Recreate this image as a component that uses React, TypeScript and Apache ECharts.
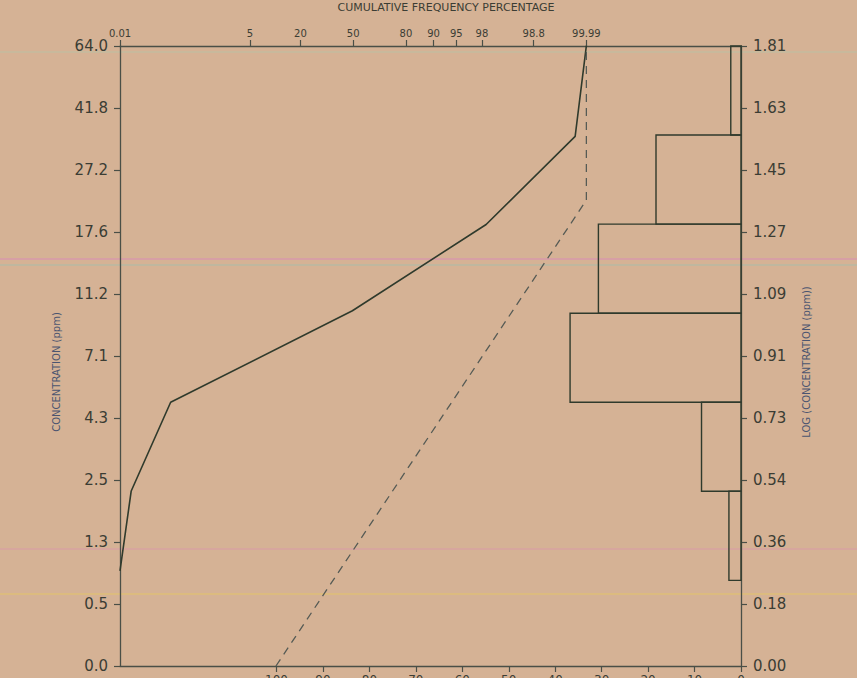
import React, { useEffect, useRef } from "react";
import * as echarts from "echarts";

// ---- data ----
const TOP_TICK_PCT = [0.01, 5, 20, 50, 80, 90, 95, 98, 99.8, 99.99];
const TOP_TICK_LABELS = ["0.01", "5", "20", "50", "80", "90", "95", "98", "98.8", "99.99"];
const BOTTOM_TICKS = [0, 10, 20, 30, 40, 50, 60, 70, 80, 90, 100];
const LEFT_LABELS = ["0.0", "0.5", "1.3", "2.5", "4.3", "7.1", "11.2", "17.6", "27.2", "41.8", "64.0"];
const RIGHT_LABELS = ["0.00", "0.18", "0.36", "0.54", "0.73", "0.91", "1.09", "1.27", "1.45", "1.63", "1.81"];

// cumulative frequency curve (solid)
const SOLID_CUM_PCT = [0.01, 0.02, 0.18, 49.5, 98.3, 99.98, 99.99];
const SOLID_LOG = [0.278, 0.511, 0.77, 1.037, 1.289, 1.546, 1.811];

// fitted line (dashed)
const DASH_CUM_PCT = [10.9, 99.99, 99.99];
const DASH_LOG = [0, 1.36, 1.811];

// histogram
const HIST_EDGES = [0.25, 0.51, 0.77, 1.03, 1.29, 1.55, 1.81];
const HIST_PCT = [2.6, 8.5, 36.8, 30.7, 18.3, 2.2];

// ---- probability scale transform (inverse normal CDF) ----
function probit(pct: number): number {
  const p = pct / 100;
  const a = [-3.969683028665376e1, 2.209460984245205e2, -2.759285104469687e2, 1.38357751867269e2, -3.066479806614716e1, 2.506628277459239];
  const b = [-5.447609879822406e1, 1.615858368580409e2, -1.556989798598866e2, 6.680131188771972e1, -1.328068155288572e1];
  const c = [-7.784894002430293e-3, -3.223964580411365e-1, -2.400758277161838, -2.549732539343734, 4.374664141464968, 2.938163982698783];
  const d = [7.784695709041462e-3, 3.224671290700398e-1, 2.445134137142996, 3.754408661907416];
  const pl = 0.02425;
  if (p < pl) {
    const q = Math.sqrt(-2 * Math.log(p));
    return (((((c[0] * q + c[1]) * q + c[2]) * q + c[3]) * q + c[4]) * q + c[5]) / ((((d[0] * q + d[1]) * q + d[2]) * q + d[3]) * q + 1);
  }
  if (p <= 1 - pl) {
    const q = p - 0.5;
    const r = q * q;
    return ((((((a[0] * r + a[1]) * r + a[2]) * r + a[3]) * r + a[4]) * r + a[5]) * q) / (((((b[0] * r + b[1]) * r + b[2]) * r + b[3]) * r + b[4]) * r + 1);
  }
  const q = Math.sqrt(-2 * Math.log(1 - p));
  return -(((((c[0] * q + c[1]) * q + c[2]) * q + c[3]) * q + c[4]) * q + c[5]) / ((((d[0] * q + d[1]) * q + d[2]) * q + d[3]) * q + 1);
}

const TOP_TICK_Z = TOP_TICK_PCT.map(probit);
const LOG_MAX = 1.81;
const LOG_STEP = 0.181;

const INK = "#2f3a2c";
const AXIS = "#4a4f47";
const TXT = "#3b3d34";
const NAME = "#4b5570";
const FONT = "DejaVu Sans";

export default function App() {
  const ref = useRef<HTMLDivElement>(null);
  useEffect(() => {
    if (!ref.current) return;
    const chart = echarts.init(ref.current, null, { renderer: "svg" });
    const idxOf = (v: number) => Math.round(v / LOG_STEP);
    const axisLine = { show: true, onZero: false, lineStyle: { color: AXIS, width: 1.3 } };
    const option: any = {
      animation: false,
      backgroundColor: "#d5b295",
      grid: { left: 120, right: 116, top: 46, bottom: 12, containLabel: false, outerBoundsMode: "none" },
      graphic: [
        { type: "line", z: -5, shape: { x1: 0, y1: 52, x2: 857, y2: 52 }, style: { stroke: "#b9c2a4", lineWidth: 2, opacity: 0.45 } },
        { type: "line", z: -5, shape: { x1: 0, y1: 259, x2: 857, y2: 259 }, style: { stroke: "#d993b0", lineWidth: 2, opacity: 0.6 } },
        { type: "line", z: -5, shape: { x1: 0, y1: 265, x2: 857, y2: 265 }, style: { stroke: "#a9bcaa", lineWidth: 2, opacity: 0.5 } },
        { type: "line", z: -5, shape: { x1: 0, y1: 549, x2: 857, y2: 549 }, style: { stroke: "#d99aa8", lineWidth: 2, opacity: 0.5 } },
        { type: "line", z: -5, shape: { x1: 0, y1: 594, x2: 857, y2: 594 }, style: { stroke: "#e3c46a", lineWidth: 2, opacity: 0.5 } },
        {
          type: "text",
          x: 446,
          y: 7,
          style: { text: "CUMULATIVE FREQUENCY PERCENTAGE", fill: TXT, font: `11px ${FONT}`, textAlign: "center", textVerticalAlign: "middle" },
        },
        {
          type: "text",
          x: 56,
          y: 372,
          rotation: Math.PI / 2,
          style: { text: "CONCENTRATION (ppm)", fill: NAME, font: `10px ${FONT}`, textAlign: "center", textVerticalAlign: "middle" },
        },
        {
          type: "text",
          x: 806,
          y: 362,
          rotation: Math.PI / 2,
          style: { text: "LOG (CONCENTRATION (ppm))", fill: NAME, font: `10px ${FONT}`, textAlign: "center", textVerticalAlign: "middle" },
        },
      ],
      xAxis: [
        {
          type: "value",
          position: "top",
          min: probit(0.01),
          max: 6.185,
          splitLine: { show: false },
          axisLine,
          axisTick: { show: true, length: 6, customValues: TOP_TICK_Z, lineStyle: { color: AXIS, width: 1.2 } },
          axisLabel: {
            show: true,
            customValues: TOP_TICK_Z,
            margin: 8,
            color: TXT,
            fontFamily: FONT,
            fontSize: 10,
            formatter: (v: number) => {
              let best = 0;
              for (let i = 1; i < TOP_TICK_Z.length; i++) if (Math.abs(TOP_TICK_Z[i] - v) < Math.abs(TOP_TICK_Z[best] - v)) best = i;
              return TOP_TICK_LABELS[best];
            },
          },
        },
        {
          type: "value",
          position: "bottom",
          inverse: true,
          min: 0,
          max: 133.7,
          splitLine: { show: false },
          axisLine,
          axisTick: { show: true, length: 6, customValues: BOTTOM_TICKS, lineStyle: { color: AXIS, width: 1.2 } },
          axisLabel: { show: true, customValues: BOTTOM_TICKS, margin: 8, color: TXT, fontFamily: FONT, fontSize: 12 },
        },
      ],
      yAxis: [
        {
          type: "value",
          position: "left",
          min: 0,
          max: LOG_MAX,
          interval: LOG_STEP,
          splitLine: { show: false },
          axisLine,
          axisTick: { show: true, length: 6, lineStyle: { color: AXIS, width: 1.2 } },
          axisLabel: { margin: 12, color: TXT, fontFamily: FONT, fontSize: 15, formatter: (v: number) => LEFT_LABELS[idxOf(v)] ?? "" },
        },
        {
          type: "value",
          position: "right",
          min: 0,
          max: LOG_MAX,
          interval: LOG_STEP,
          splitLine: { show: false },
          axisLine,
          axisTick: { show: true, length: 6, lineStyle: { color: AXIS, width: 1.2 } },
          axisLabel: { margin: 12, color: TXT, fontFamily: FONT, fontSize: 15, formatter: (v: number) => RIGHT_LABELS[idxOf(v)] ?? "" },
        },
      ],
      series: [
        {
          type: "custom",
          xAxisIndex: 1,
          yAxisIndex: 0,
          data: HIST_PCT.map((v, i) => [v, HIST_EDGES[i], HIST_EDGES[i + 1]]),
          encode: { x: 0, y: [1, 2] },
          renderItem: (params: any, api: any) => {
            const pct = api.value(0);
            const lo = api.value(1);
            const hi = api.value(2);
            const p0 = api.coord([0, hi]);
            const p1 = api.coord([pct, lo]);
            return {
              type: "rect",
              shape: { x: Math.min(p0[0], p1[0]), y: p0[1], width: Math.abs(p1[0] - p0[0]), height: p1[1] - p0[1] },
              style: { fill: "none", stroke: INK, lineWidth: 1.4 },
            };
          },
        },
        {
          type: "line",
          xAxisIndex: 0,
          yAxisIndex: 0,
          data: SOLID_CUM_PCT.map((p, i) => [probit(p), SOLID_LOG[i]]),
          symbol: "none",
          lineStyle: { color: INK, width: 1.6 },
        },
        {
          type: "line",
          xAxisIndex: 0,
          yAxisIndex: 0,
          data: DASH_CUM_PCT.map((p, i) => [probit(p), DASH_LOG[i]]),
          symbol: "none",
          lineStyle: { color: "#565b55", width: 1.3, type: [8, 6] },
        },
      ],
    };
    chart.setOption(option);
    return () => chart.dispose();
  }, []);
  return <div ref={ref} style={{ position: "absolute", left: 0, top: 0, width: 857, height: 678 }} />;
}
